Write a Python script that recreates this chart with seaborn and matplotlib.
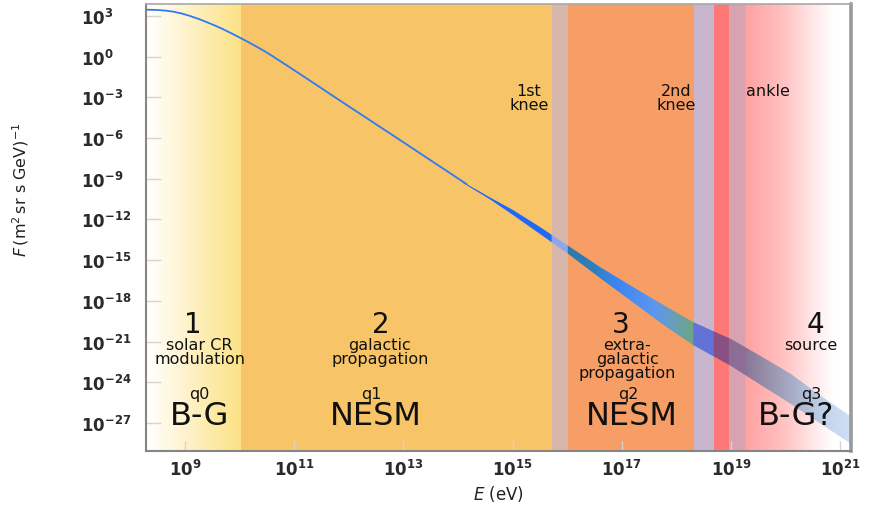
import numpy as np
import pandas as pd
import matplotlib
matplotlib.use("Agg")
import matplotlib.pyplot as plt
import seaborn as sns
from matplotlib.colors import LinearSegmentedColormap, Normalize
from matplotlib.ticker import FixedLocator, FixedFormatter, NullLocator

# ---------------- data ----------------
# thin part of the spectrum (log10 E [eV], log10 F)
line_logE = [8.30, 8.49, 8.65, 8.78, 8.95, 9.09, 9.25, 9.40, 9.55, 9.70, 9.85, 10.01, 10.17,
             10.32, 10.47, 10.61, 10.92, 11.23, 11.84, 12.94, 14.16]
line_logF = [3.46, 3.44, 3.39, 3.32, 3.17, 3.00, 2.78, 2.54, 2.29, 2.02, 1.72, 1.39, 1.05,
             0.72, 0.37, 0.02, -0.79, -1.61, -3.24, -6.15, -9.40]

# widening uncertainty band
band_logE = [14.1, 14.6, 15.0, 15.5, 16.0, 16.6, 17.3, 17.8, 18.3, 19.0, 19.6, 20.1, 20.6, 21.3]
band_center = [-9.25, -10.5, -11.5, -12.8, -14.2, -15.9, -17.8, -19.1, -20.4, -21.8, -23.3, -24.5, -25.9, -27.8]
band_half = [0.04, 0.10, 0.16, 0.26, 0.30, 0.42, 0.59, 0.72, 0.85, 1.00, 1.05, 1.10, 1.05, 1.00]

# energy regions (log10 E)
region_edges = [8.29, 10.02, 15.72, 16.01, 18.32, 18.69, 18.96, 19.26, 21.2]

# region labels
zone_numbers = ["1", "2", "3", "4"]
zone_number_x = [9.14, 12.58, 16.98, 20.54]
zone_desc = ["solar CR\nmodulation", "galactic\npropagation", "extra-\ngalactic\npropagation", "source"]
zone_desc_x = [9.27, 12.57, 17.10, 20.47]
zone_q = ["q0", "q1", "q2", "q3"]
zone_q_x = [9.27, 12.41, 17.12, 20.48]
zone_model = ["B-G", "NESM", "NESM", "B-G?"]
zone_model_x = [9.27, 12.50, 17.18, 20.19]

feature_labels = ["1st\nknee", "2nd\nknee", "ankle"]
feature_x = [15.30, 17.99, 19.68]

yticks_exp = [3, 0, -3, -6, -9, -12, -15, -18, -21, -24, -27]
xticks_exp = [9, 11, 13, 15, 17, 19, 21]

# ---------------- style ----------------
sns.set_theme(style="white")
plt.rcParams["font.family"] = ["DejaVu Sans"]
plt.rcParams["mathtext.fontset"] = "dejavusans"

fig = plt.figure(figsize=(8.69, 5.06), dpi=100)
ax = fig.add_axes([146 / 869, 1 - 452 / 506, 705 / 869, 447 / 506])
ax.set_xscale("log")
ax.set_yscale("log")
xlim = (10 ** 8.286, 10 ** 21.2)
ylim = (10 ** -29.07, 10 ** 3.88)

# ---------------- background regions ----------------
def gradient(x0, x1, stops):
    xs = 10 ** np.linspace(x0, x1, 200)
    cm = LinearSegmentedColormap.from_list("g", stops, N=512)
    c = np.linspace(0, 1, 199)[None, :]
    ax.pcolormesh(xs, [ylim[0] / 10, ylim[1] * 10], c, cmap=cm, vmin=0, vmax=1,
                  shading="flat", zorder=0, rasterized=True)

gradient(region_edges[0], region_edges[1],
         [(0, "#ffffff"), (0.3, "#fef6da"), (0.7, "#fdeaa8"), (1, "#fce287")])
solid = ["#f7c567", "#d7b7a9", "#f79e66", "#c8b6ce", "#ff7878", "#d8a2b0"]
for i, col in enumerate(solid):
    ax.axvspan(10 ** region_edges[i + 1], 10 ** region_edges[i + 2], color=col, lw=0, zorder=0)
gradient(region_edges[7], 21.3,
         [(0, "#ffa0a0"), (0.35, "#ffc2c2"), (0.62, "#ffe8e8"), (0.8, "#ffffff"), (1, "#ffffff")])

# ---------------- spectrum ----------------
df = pd.DataFrame({"E": 10 ** np.array(line_logE), "F": 10 ** np.array(line_logF)})
sns.lineplot(data=df, x="E", y="F", ax=ax, color="#2d7bf4", lw=1.3, zorder=3, sort=False)

bE = 10 ** np.array(band_logE)
bc = np.array(band_center)
bh = np.array(band_half)
poly = ax.fill_between(bE, 10 ** (bc - bh), 10 ** (bc + bh), facecolor="none", lw=0, zorder=2)

band_stops = [(14.0, "#1a66ff"), (15.70, "#2068f8"), (15.73, "#8fa6ec"), (16.0, "#8fa6ec"),
              (16.02, "#2a7aa8"), (16.5, "#2f7fbc"), (16.9, "#3c84f2"), (17.6, "#5c96f0"),
              (18.0, "#6a9eb0"), (18.31, "#6ca585"), (18.33, "#6272d6"), (18.68, "#6272d6"),
              (18.70, "#8a4f82"), (18.95, "#8a4f82"), (18.97, "#8c6d96"), (19.25, "#8c6d96"),
              (19.30, "#8a7898"), (19.8, "#9c98b2"), (20.3, "#aeb8d2"), (20.8, "#c4d6ee"),
              (21.3, "#d2e2f6")]
lo_s, hi_s = band_stops[0][0], band_stops[-1][0]
band_cmap = LinearSegmentedColormap.from_list(
    "band", [((p - lo_s) / (hi_s - lo_s), c) for p, c in band_stops], N=2048)
xe = np.linspace(lo_s, hi_s, 600)
mesh = ax.pcolormesh(10 ** xe, [1e-32, 1e-6], ((xe[:-1] + xe[1:]) / 2)[None, :],
                     cmap=band_cmap, norm=Normalize(lo_s, hi_s), shading="flat", zorder=2)
mesh.set_clip_path(poly.get_paths()[0], transform=ax.transData)

# ---------------- labels inside ----------------
tk = dict(ha="center", va="center", color="#111111", zorder=5)
for s, x in zip(zone_numbers, zone_number_x):
    ax.text(10 ** x, 10 ** -20.3, s, fontsize=20, ha="center", va="baseline",
            color="#111111", zorder=5)
for s, x in zip(zone_desc, zone_desc_x):
    ax.text(10 ** x, 10 ** -20.7, s, fontsize=11.5, linespacing=0.88,
            ha="center", va="top", color="#111111", zorder=5)
for s, x in zip(zone_q, zone_q_x):
    ax.text(10 ** x, 10 ** -24.85, s, fontsize=11.5, **tk)
for s, x in zip(zone_model, zone_model_x):
    ax.text(10 ** x, 10 ** -26.45, s, fontsize=23, **tk)
for s, x in zip(feature_labels, feature_x):
    ax.text(10 ** x, 10 ** -1.95, s, fontsize=11.5, linespacing=0.95,
            ha="center", va="top", color="#111111", zorder=5)

# ---------------- axes ----------------
ax.set_xlim(*xlim)
ax.set_ylim(*ylim)
ax.yaxis.set_major_locator(FixedLocator([10.0 ** e for e in yticks_exp]))
ax.yaxis.set_major_formatter(FixedFormatter([r"$\mathbf{10^{%d}}$" % e for e in yticks_exp]))
ax.xaxis.set_major_locator(FixedLocator([10.0 ** e for e in xticks_exp]))
ax.xaxis.set_major_formatter(FixedFormatter([r"$\mathbf{10^{%d}}$" % e for e in xticks_exp]))
ax.yaxis.set_minor_locator(NullLocator())
ax.xaxis.set_minor_locator(NullLocator())
ax.tick_params(axis="y", direction="in", length=11, width=1, color="#d4d4d4",
               labelsize=12, labelcolor="#2a2a2a", pad=47, left=True)
ax.tick_params(axis="x", direction="in", length=7, width=1, color="#d4d4d4",
               labelsize=12, labelcolor="#2a2a2a", pad=6, bottom=True)
for lab in ax.get_yticklabels():
    lab.set_horizontalalignment("left")

for side, (c, w) in {"left": ("#858585", 1.5), "bottom": ("#858585", 1.5),
                     "top": ("#a8a8a8", 1.2), "right": ("#9a9a9a", 2.6)}.items():
    ax.spines[side].set_color(c)
    ax.spines[side].set_linewidth(w)
    ax.spines[side].set_zorder(6)

ax.set_xlabel(r"$\mathit{E}$ (eV)", fontsize=12, color="#222222")
ax.xaxis.set_label_coords(0.5, -0.072)
ax.set_ylabel(r"$\mathit{F}\,(\mathrm{m}^{2}\,\mathrm{sr\ s\ GeV})^{-1}$", fontsize=11.5, color="#222222")
ax.yaxis.set_label_coords(-0.163, 0.586)

fig.savefig("out.png", dpi=100, facecolor="white")
